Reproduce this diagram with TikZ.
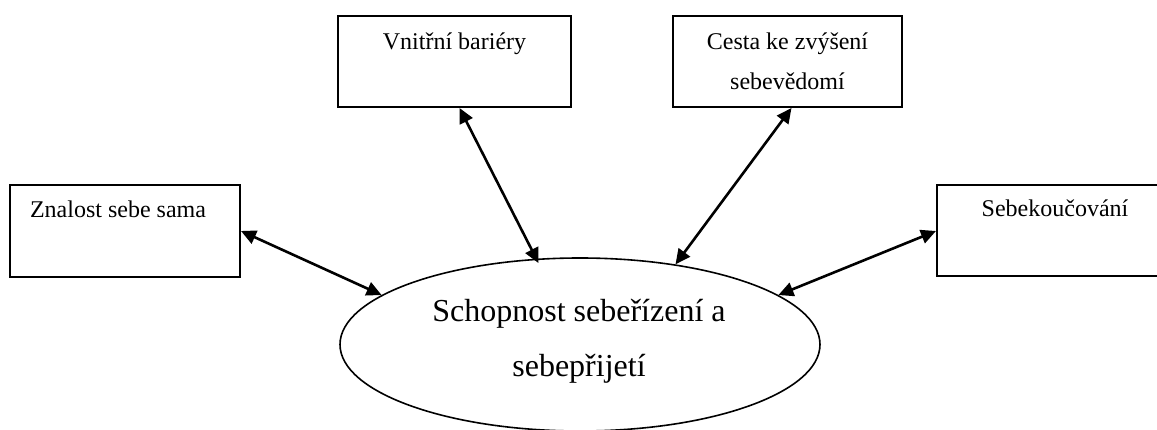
\documentclass[tikz,border=0pt]{standalone}
\usepackage{fontspec}
\setmainfont{Liberation Serif}
\usetikzlibrary{arrows.meta,shapes.geometric}

\tikzset{
  topic/.style={draw, line width=2pt, rectangle, inner sep=0pt},
  topictext/.style={anchor=base, inner sep=0pt, align=center,
    font=\fontsize{24}{40}\selectfont},
  core/.style={draw, line width=1.6pt, ellipse, inner sep=0pt},
  coretext/.style={anchor=base, inner sep=0pt, align=center,
    font=\fontsize{32}{55}\selectfont},
  link/.style={line width=2.6pt,
    {Triangle[length=15pt,width=14pt]}-{Triangle[length=15pt,width=14pt]}}
}

\begin{document}
\begin{tikzpicture}[x=1pt, y=-1pt]
  \useasboundingbox (0,0) rectangle (1157,430);
  \clip (0,0) rectangle (1157,430);

  % outer topics
  \node[topic, minimum width=230pt, minimum height=92pt] (b1) at (125,231) {};
  \node[topic, minimum width=233pt, minimum height=91pt] (b2) at (454.5,61.5) {};
  \node[topic, minimum width=229pt, minimum height=91pt] (b3) at (787.5,61.5) {};
  \node[topic, minimum width=230pt, minimum height=91pt] (b4) at (1052,231) {};

  % captions (base anchor sits on the last line)
  \node[topictext] (t1) at (118,218) {Znalost sebe sama};
  \node[topictext] (t2) at (454.5,50) {Vnitřní bariéry};
  \node[topictext] (t3) at (787.5,90) {Cesta ke zvýšení\\sebevědomí};
  \node[topictext] (t4) at (1055,217) {Sebekoučování};

  % central ellipse
  \node[core, minimum width=480pt, minimum height=173pt] (c) at (580,344.5) {};
  \node[coretext] (ct) at (579,377) {Schopnost sebeřízení a\\sebepřijetí};

  % two-way links
  \draw[link] (b1.east) -- (c.166);
  \draw[link, shorten >=-5pt] ([xshift=5pt]b2.south) -- (c.117);
  \draw[link] ([xshift=4pt]b3.south) -- (c.40.5);
  \draw[link] (b4.west) -- (c.14);
\end{tikzpicture}
\end{document}
